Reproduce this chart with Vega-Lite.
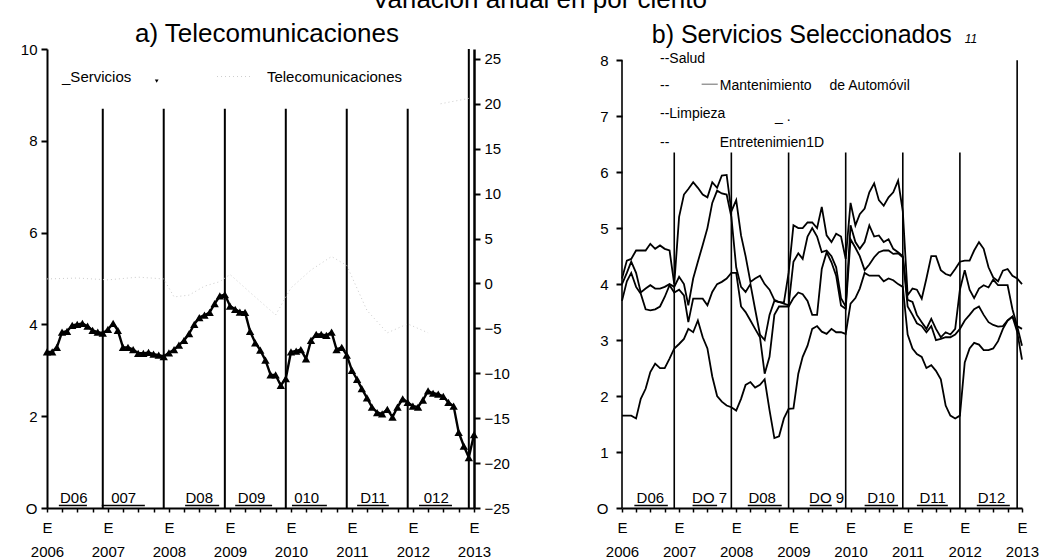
{
  "$schema": "https://vega.github.io/schema/vega-lite/v6.json",
  "padding": {"left": 20, "top": -13, "right": 5, "bottom": 0},
  "config": {
    "view": {"stroke": null},
    "font": "Liberation Sans",
    "axis": {"labelColor": "black", "domainColor": "black", "tickColor": "black", "labelFont": "Liberation Sans", "grid": false, "title": null},
    "title": {"font": "Liberation Sans", "color": "black", "fontWeight": "normal"},
    "text": {"font": "Liberation Sans", "color": "black"}
  },
  "title": {"text": "Variación anual en por ciento", "fontSize": 26, "anchor": "middle", "offset": 8, "dx": 10},
  "datasets": {
    "m": [
      {"d":"2006/01/01","serv":3.4,"Salud":4.1,"Mantenimiento":4.0,"Limpieza":3.7,"Entretenimiento":1.65},
      {"d":"2006/02/01","serv":3.4,"Salud":4.42,"Mantenimiento":4.2,"Limpieza":4.05,"Entretenimiento":1.65},
      {"d":"2006/03/01","serv":3.5,"Salud":4.45,"Mantenimiento":4.4,"Limpieza":4.2,"Entretenimiento":1.65},
      {"d":"2006/04/01","serv":3.83,"Salud":4.6,"Mantenimiento":4.2,"Limpieza":3.95,"Entretenimiento":1.6},
      {"d":"2006/05/01","serv":3.85,"Salud":4.6,"Mantenimiento":3.85,"Limpieza":3.83,"Entretenimiento":1.95},
      {"d":"2006/06/01","serv":3.98,"Salud":4.6,"Mantenimiento":3.92,"Limpieza":3.55,"Entretenimiento":2.13},
      {"d":"2006/07/01","serv":4.0,"Salud":4.72,"Mantenimiento":3.98,"Limpieza":3.53,"Entretenimiento":2.43},
      {"d":"2006/08/01","serv":4.02,"Salud":4.63,"Mantenimiento":3.92,"Limpieza":3.55,"Entretenimiento":2.58},
      {"d":"2006/09/01","serv":3.96,"Salud":4.69,"Mantenimiento":3.92,"Limpieza":3.6,"Entretenimiento":2.5},
      {"d":"2006/10/01","serv":3.87,"Salud":4.63,"Mantenimiento":3.95,"Limpieza":3.77,"Entretenimiento":2.5},
      {"d":"2006/11/01","serv":3.83,"Salud":4.6,"Mantenimiento":4.0,"Limpieza":3.98,"Entretenimiento":2.67},
      {"d":"2006/12/01","serv":3.81,"Salud":4.0,"Mantenimiento":3.95,"Limpieza":3.85,"Entretenimiento":2.85},
      {"d":"2007/01/01","serv":3.89,"Salud":5.2,"Mantenimiento":4.13,"Limpieza":3.9,"Entretenimiento":2.93},
      {"d":"2007/02/01","serv":4.02,"Salud":5.6,"Mantenimiento":4.0,"Limpieza":3.8,"Entretenimiento":3.02},
      {"d":"2007/03/01","serv":3.87,"Salud":5.7,"Mantenimiento":3.62,"Limpieza":3.32,"Entretenimiento":3.2},
      {"d":"2007/04/01","serv":3.5,"Salud":5.82,"Mantenimiento":4.1,"Limpieza":3.74,"Entretenimiento":3.14},
      {"d":"2007/05/01","serv":3.5,"Salud":5.72,"Mantenimiento":4.4,"Limpieza":3.74,"Entretenimiento":3.35},
      {"d":"2007/06/01","serv":3.45,"Salud":5.6,"Mantenimiento":4.7,"Limpieza":3.74,"Entretenimiento":3.05},
      {"d":"2007/07/01","serv":3.37,"Salud":5.55,"Mantenimiento":5.0,"Limpieza":3.62,"Entretenimiento":2.85},
      {"d":"2007/08/01","serv":3.37,"Salud":5.82,"Mantenimiento":5.45,"Limpieza":3.86,"Entretenimiento":2.35},
      {"d":"2007/09/01","serv":3.39,"Salud":5.72,"Mantenimiento":5.67,"Limpieza":4.0,"Entretenimiento":2.0},
      {"d":"2007/10/01","serv":3.35,"Salud":5.94,"Mantenimiento":5.62,"Limpieza":4.04,"Entretenimiento":1.9},
      {"d":"2007/11/01","serv":3.33,"Salud":5.95,"Mantenimiento":5.6,"Limpieza":4.1,"Entretenimiento":1.83},
      {"d":"2007/12/01","serv":3.3,"Salud":5.3,"Mantenimiento":5.2,"Limpieza":4.2,"Entretenimiento":1.8},
      {"d":"2008/01/01","serv":3.38,"Salud":5.5,"Mantenimiento":4.3,"Limpieza":4.2,"Entretenimiento":1.74},
      {"d":"2008/02/01","serv":3.45,"Salud":4.87,"Mantenimiento":3.95,"Limpieza":3.6,"Entretenimiento":1.95},
      {"d":"2008/03/01","serv":3.55,"Salud":4.5,"Mantenimiento":3.86,"Limpieza":3.5,"Entretenimiento":2.2},
      {"d":"2008/04/01","serv":3.65,"Salud":4.04,"Mantenimiento":4.0,"Limpieza":3.35,"Entretenimiento":2.25},
      {"d":"2008/05/01","serv":3.8,"Salud":4.1,"Mantenimiento":3.55,"Limpieza":3.2,"Entretenimiento":2.15},
      {"d":"2008/06/01","serv":4.0,"Salud":4.15,"Mantenimiento":3.1,"Limpieza":3.05,"Entretenimiento":2.2},
      {"d":"2008/07/01","serv":4.15,"Salud":4.0,"Mantenimiento":3.0,"Limpieza":2.4,"Entretenimiento":2.3},
      {"d":"2008/08/01","serv":4.2,"Salud":3.9,"Mantenimiento":3.45,"Limpieza":2.7,"Entretenimiento":1.75},
      {"d":"2008/09/01","serv":4.26,"Salud":3.72,"Mantenimiento":3.7,"Limpieza":3.45,"Entretenimiento":1.25},
      {"d":"2008/10/01","serv":4.45,"Salud":3.68,"Mantenimiento":3.68,"Limpieza":3.6,"Entretenimiento":1.28},
      {"d":"2008/11/01","serv":4.62,"Salud":3.67,"Mantenimiento":3.65,"Limpieza":3.6,"Entretenimiento":1.6},
      {"d":"2008/12/01","serv":4.65,"Salud":4.2,"Mantenimiento":3.62,"Limpieza":3.6,"Entretenimiento":1.77},
      {"d":"2009/01/01","serv":4.4,"Salud":5.05,"Mantenimiento":4.4,"Limpieza":3.75,"Entretenimiento":1.78},
      {"d":"2009/02/01","serv":4.33,"Salud":5.0,"Mantenimiento":4.55,"Limpieza":3.85,"Entretenimiento":2.4},
      {"d":"2009/03/01","serv":4.27,"Salud":5.0,"Mantenimiento":4.45,"Limpieza":3.82,"Entretenimiento":2.7},
      {"d":"2009/04/01","serv":4.26,"Salud":5.1,"Mantenimiento":4.85,"Limpieza":3.7,"Entretenimiento":2.9},
      {"d":"2009/05/01","serv":3.85,"Salud":5.1,"Mantenimiento":5.0,"Limpieza":3.45,"Entretenimiento":3.2},
      {"d":"2009/06/01","serv":3.6,"Salud":5.0,"Mantenimiento":4.85,"Limpieza":3.45,"Entretenimiento":3.25},
      {"d":"2009/07/01","serv":3.44,"Salud":5.38,"Mantenimiento":4.57,"Limpieza":4.27,"Entretenimiento":3.15},
      {"d":"2009/08/01","serv":3.22,"Salud":4.87,"Mantenimiento":4.6,"Limpieza":4.57,"Entretenimiento":3.11},
      {"d":"2009/09/01","serv":2.9,"Salud":4.75,"Mantenimiento":4.5,"Limpieza":4.39,"Entretenimiento":3.2},
      {"d":"2009/10/01","serv":2.9,"Salud":4.9,"Mantenimiento":4.3,"Limpieza":4.15,"Entretenimiento":3.14},
      {"d":"2009/11/01","serv":2.67,"Salud":4.85,"Mantenimiento":3.75,"Limpieza":3.62,"Entretenimiento":3.14},
      {"d":"2009/12/01","serv":2.82,"Salud":4.45,"Mantenimiento":3.6,"Limpieza":3.56,"Entretenimiento":3.11},
      {"d":"2010/01/01","serv":3.4,"Salud":5.45,"Mantenimiento":5.05,"Limpieza":4.8,"Entretenimiento":3.65},
      {"d":"2010/02/01","serv":3.42,"Salud":5.05,"Mantenimiento":4.75,"Limpieza":4.65,"Entretenimiento":3.75},
      {"d":"2010/03/01","serv":3.45,"Salud":5.25,"Mantenimiento":4.63,"Limpieza":4.5,"Entretenimiento":3.92},
      {"d":"2010/04/01","serv":3.25,"Salud":5.35,"Mantenimiento":4.75,"Limpieza":4.25,"Entretenimiento":4.2},
      {"d":"2010/05/01","serv":3.65,"Salud":5.64,"Mantenimiento":5.05,"Limpieza":4.35,"Entretenimiento":4.15},
      {"d":"2010/06/01","serv":3.78,"Salud":5.8,"Mantenimiento":4.85,"Limpieza":4.48,"Entretenimiento":4.15},
      {"d":"2010/07/01","serv":3.78,"Salud":5.5,"Mantenimiento":4.87,"Limpieza":4.57,"Entretenimiento":4.15},
      {"d":"2010/08/01","serv":3.76,"Salud":5.4,"Mantenimiento":4.75,"Limpieza":4.6,"Entretenimiento":4.05},
      {"d":"2010/09/01","serv":3.83,"Salud":5.55,"Mantenimiento":4.8,"Limpieza":4.6,"Entretenimiento":4.1},
      {"d":"2010/10/01","serv":3.45,"Salud":5.64,"Mantenimiento":4.63,"Limpieza":4.54,"Entretenimiento":4.07},
      {"d":"2010/11/01","serv":3.5,"Salud":5.85,"Mantenimiento":4.57,"Limpieza":4.55,"Entretenimiento":4.0},
      {"d":"2010/12/01","serv":3.33,"Salud":5.3,"Mantenimiento":4.5,"Limpieza":4.48,"Entretenimiento":3.95},
      {"d":"2011/01/01","serv":3.0,"Salud":3.8,"Mantenimiento":3.72,"Limpieza":3.6,"Entretenimiento":3.1},
      {"d":"2011/02/01","serv":2.8,"Salud":3.92,"Mantenimiento":3.68,"Limpieza":3.45,"Entretenimiento":2.85},
      {"d":"2011/03/01","serv":2.6,"Salud":3.9,"Mantenimiento":3.45,"Limpieza":3.3,"Entretenimiento":2.75},
      {"d":"2011/04/01","serv":2.4,"Salud":3.74,"Mantenimiento":3.32,"Limpieza":3.25,"Entretenimiento":2.7},
      {"d":"2011/05/01","serv":2.2,"Salud":4.1,"Mantenimiento":3.2,"Limpieza":3.14,"Entretenimiento":2.5},
      {"d":"2011/06/01","serv":2.08,"Salud":4.5,"Mantenimiento":3.38,"Limpieza":3.25,"Entretenimiento":2.55},
      {"d":"2011/07/01","serv":2.05,"Salud":4.5,"Mantenimiento":3.2,"Limpieza":3.0,"Entretenimiento":2.45},
      {"d":"2011/08/01","serv":2.15,"Salud":4.25,"Mantenimiento":3.05,"Limpieza":3.02,"Entretenimiento":2.3},
      {"d":"2011/09/01","serv":1.98,"Salud":4.18,"Mantenimiento":3.14,"Limpieza":3.05,"Entretenimiento":1.83},
      {"d":"2011/10/01","serv":2.2,"Salud":4.15,"Mantenimiento":3.1,"Limpieza":3.05,"Entretenimiento":1.65},
      {"d":"2011/11/01","serv":2.38,"Salud":4.27,"Mantenimiento":3.2,"Limpieza":3.1,"Entretenimiento":1.6},
      {"d":"2011/12/01","serv":2.3,"Salud":4.4,"Mantenimiento":3.9,"Limpieza":3.2,"Entretenimiento":1.65},
      {"d":"2012/01/01","serv":2.22,"Salud":4.42,"Mantenimiento":4.25,"Limpieza":3.35,"Entretenimiento":2.6},
      {"d":"2012/02/01","serv":2.2,"Salud":4.42,"Mantenimiento":3.9,"Limpieza":3.45,"Entretenimiento":2.85},
      {"d":"2012/03/01","serv":2.35,"Salud":4.6,"Mantenimiento":3.75,"Limpieza":3.55,"Entretenimiento":2.95},
      {"d":"2012/04/01","serv":2.55,"Salud":4.75,"Mantenimiento":3.92,"Limpieza":3.6,"Entretenimiento":2.92},
      {"d":"2012/05/01","serv":2.5,"Salud":4.63,"Mantenimiento":3.98,"Limpieza":3.45,"Entretenimiento":2.82},
      {"d":"2012/06/01","serv":2.48,"Salud":4.3,"Mantenimiento":3.94,"Limpieza":3.32,"Entretenimiento":2.82},
      {"d":"2012/07/01","serv":2.43,"Salud":4.12,"Mantenimiento":4.08,"Limpieza":3.27,"Entretenimiento":2.85},
      {"d":"2012/08/01","serv":2.3,"Salud":4.05,"Mantenimiento":3.98,"Limpieza":3.24,"Entretenimiento":2.98},
      {"d":"2012/09/01","serv":2.22,"Salud":4.24,"Mantenimiento":3.98,"Limpieza":3.25,"Entretenimiento":3.2},
      {"d":"2012/10/01","serv":1.65,"Salud":4.27,"Mantenimiento":3.98,"Limpieza":3.35,"Entretenimiento":3.35},
      {"d":"2012/11/01","serv":1.35,"Salud":4.15,"Mantenimiento":3.55,"Limpieza":3.42,"Entretenimiento":3.42},
      {"d":"2012/12/01","serv":1.1,"Salud":4.1,"Mantenimiento":3.25,"Limpieza":3.25,"Entretenimiento":3.15},
      {"d":"2013/01/01","serv":1.6,"Salud":4.0,"Mantenimiento":3.2,"Limpieza":2.9,"Entretenimiento":2.65}
    ],
    "t": [
      {"d":"2006/01/01","v":0.5,"seg":"a"},{"d":"2006/07/01","v":0.6,"seg":"a"},{"d":"2007/01/01","v":0.4,"seg":"a"},
      {"d":"2007/07/01","v":0.7,"seg":"a"},{"d":"2007/12/01","v":0.5,"seg":"a"},{"d":"2008/02/01","v":-1.5,"seg":"a"},
      {"d":"2008/05/01","v":-1.3,"seg":"a"},{"d":"2008/08/01","v":-0.3,"seg":"a"},{"d":"2008/11/01","v":0.2,"seg":"a"},
      {"d":"2009/01/01","v":1.0,"seg":"a"},{"d":"2009/05/01","v":-1.0,"seg":"a"},{"d":"2009/10/01","v":-3.5,"seg":"a"},
      {"d":"2010/01/01","v":-0.5,"seg":"a"},{"d":"2010/05/01","v":1.5,"seg":"a"},{"d":"2010/09/01","v":3.0,"seg":"a"},
      {"d":"2010/12/01","v":2.0,"seg":"a"},{"d":"2011/04/01","v":-3.0,"seg":"a"},{"d":"2011/08/01","v":-5.5,"seg":"a"},
      {"d":"2011/12/01","v":-4.5,"seg":"a"},{"d":"2012/04/01","v":-5.5,"seg":"a"},
      {"d":"2012/06/15","v":20.0,"seg":"b"},{"d":"2012/12/01","v":20.6,"seg":"b"}
    ],
    "dl": [
      {"d":"2006/12/01","bot":0,"top":8.7},{"d":"2007/12/01","bot":0,"top":8.7},{"d":"2008/12/01","bot":0,"top":8.7},
      {"d":"2009/12/01","bot":0,"top":8.7},{"d":"2010/12/01","bot":0,"top":8.7},{"d":"2011/12/01","bot":0,"top":8.7},
      {"d":"2012/12/01","bot":0,"top":10}
    ],
    "dr": [
      {"d":"2006/01/01","bot":0,"top":8},
      {"d":"2006/12/01","bot":0,"top":6.35},{"d":"2007/12/01","bot":0,"top":6.35},{"d":"2008/12/01","bot":0,"top":6.35},
      {"d":"2009/12/01","bot":0,"top":6.35},{"d":"2010/12/01","bot":0,"top":6.35},{"d":"2011/12/01","bot":0,"top":6.35},
      {"d":"2012/12/01","bot":0,"top":8}
    ],
    "labL": [
      {"d":"2006/06/10","y":0.11,"t":"D06"},{"d":"2007/04/05","y":0.11,"t":"007"},{"d":"2008/07/01","y":0.11,"t":"D08"},
      {"d":"2009/05/10","y":0.11,"t":"D09"},{"d":"2010/04/05","y":0.11,"t":"010"},{"d":"2011/05/10","y":0.11,"t":"D11"},
      {"d":"2012/05/20","y":0.11,"t":"012"}
    ],
    "ulL": [
      {"d":"2006/03/13","d2":"2006/08/28","y":0.055},{"d":"2006/11/25","d2":"2007/08/10","y":0.055},
      {"d":"2008/04/07","d2":"2008/10/28","y":0.055},{"d":"2009/02/01","d2":"2009/09/10","y":0.055},
      {"d":"2010/01/07","d2":"2010/08/04","y":0.055},{"d":"2011/02/01","d2":"2011/08/10","y":0.055},
      {"d":"2012/02/07","d2":"2012/08/22","y":0.055}
    ],
    "labR": [
      {"d":"2006/07/01","y":0.09,"t":"D06"},{"d":"2007/07/15","y":0.09,"t":"DO 7"},{"d":"2008/06/15","y":0.09,"t":"D08"},
      {"d":"2009/08/01","y":0.09,"t":"DO 9"},{"d":"2010/07/15","y":0.09,"t":"D10"},{"d":"2011/06/10","y":0.09,"t":"D11"},
      {"d":"2012/06/20","y":0.09,"t":"D12"}
    ],
    "ulR": [
      {"d":"2006/03/21","d2":"2006/10/21","y":0.045},{"d":"2007/03/28","d2":"2007/09/01","y":0.045},
      {"d":"2008/03/15","d2":"2008/10/18","y":0.045},{"d":"2009/04/15","d2":"2009/09/03","y":0.045},
      {"d":"2010/04/01","d2":"2010/11/01","y":0.045},{"d":"2011/03/01","d2":"2011/09/15","y":0.045},
      {"d":"2012/03/18","d2":"2012/10/15","y":0.045}
    ],
    "legL": [
      {"d":"2006/04/01","y":9.39,"t":"_Servicios"},
      {"d":"2009/08/10","y":9.39,"t":"Telecomunicaciones"}
    ],
    "legR": [
      {"d":"2006/09/01","y":8.02,"t":"--Salud"},
      {"d":"2006/09/01","y":7.54,"t":"--"},
      {"d":"2007/09/18","y":7.54,"t":"Mantenimiento"},
      {"d":"2009/08/20","y":7.54,"t":"de Automóvil"},
      {"d":"2006/09/01","y":7.04,"t":"--Limpieza"},
      {"d":"2008/09/05","y":6.98,"t":"_ ."},
      {"d":"2006/09/01","y":6.52,"t":"--"},
      {"d":"2007/09/18","y":6.52,"t":"Entretenimien1D"}
    ]
  },
  "hconcat": [
    {
      "width": 427,
      "height": 459,
      "encoding": {
        "x": {
          "field": "d", "type": "temporal",
          "scale": {"domain": [{"year": 2006, "month": 1, "date": 1}, {"year": 2013, "month": 1, "date": 1}], "nice": false},
          "axis": {
            "values": [
              {"year":2006,"month":1,"date":1},{"year":2006,"month":4,"date":1},{"year":2006,"month":7,"date":1},{"year":2006,"month":10,"date":1},
              {"year":2007,"month":1,"date":1},{"year":2007,"month":4,"date":1},{"year":2007,"month":7,"date":1},{"year":2007,"month":10,"date":1},
              {"year":2008,"month":1,"date":1},{"year":2008,"month":4,"date":1},{"year":2008,"month":7,"date":1},{"year":2008,"month":10,"date":1},
              {"year":2009,"month":1,"date":1},{"year":2009,"month":4,"date":1},{"year":2009,"month":7,"date":1},{"year":2009,"month":10,"date":1},
              {"year":2010,"month":1,"date":1},{"year":2010,"month":4,"date":1},{"year":2010,"month":7,"date":1},{"year":2010,"month":10,"date":1},
              {"year":2011,"month":1,"date":1},{"year":2011,"month":4,"date":1},{"year":2011,"month":7,"date":1},{"year":2011,"month":10,"date":1},
              {"year":2012,"month":1,"date":1},{"year":2012,"month":4,"date":1},{"year":2012,"month":7,"date":1},{"year":2012,"month":10,"date":1},
              {"year":2013,"month":1,"date":1}
            ],
            "labelExpr": "month(datum.value) == 0 ? ['E', timeFormat(datum.value, '%Y')] : ''",
            "labelFlush": false, "labelOverlap": false, "labelLineHeight": 24,
            "labelPadding": 8, "tickSize": 4, "tickWidth": 1.5, "domainWidth": 2, "labelFontSize": 15, "title": null
          }
        }
      },
      "layer": [
        {
          "layer": [
            {
              "data": {"name": "dl"},
              "mark": {"type": "rule", "color": "black", "strokeWidth": 2},
              "encoding": {
                "y": {"field": "top", "type": "quantitative", "scale": {"domain": [0, 10], "nice": false},
                      "axis": {"values": [0, 2, 4, 6, 8, 10], "labelExpr": "datum.value == 0 ? 'O' : datum.label", "tickSize": 6, "tickWidth": 2, "domainWidth": 2, "labelPadding": 4, "labelFontSize": 15, "title": null}},
                "y2": {"field": "bot"}
              }
            },
            {
              "data": {"name": "m"},
              "mark": {"type": "line", "color": "black", "strokeWidth": 2.4,
                       "point": {"shape": "triangle-up", "filled": true, "size": 70, "color": "black"}},
              "encoding": {
                "y": {"field": "serv", "type": "quantitative", "scale": {"domain": [0, 10], "nice": false},
                      "axis": {"values": [0, 2, 4, 6, 8, 10], "labelExpr": "datum.value == 0 ? 'O' : datum.label", "tickSize": 6, "tickWidth": 2, "domainWidth": 2, "labelPadding": 4, "labelFontSize": 15, "title": null}}
              }
            },
            {
              "data": {"name": "labL"},
              "mark": {"type": "text", "fontSize": 15, "baseline": "alphabetic", "align": "center"},
              "encoding": {
                "y": {"field": "y", "type": "quantitative", "scale": {"domain": [0, 10], "nice": false},
                      "axis": {"values": [0, 2, 4, 6, 8, 10], "labelExpr": "datum.value == 0 ? 'O' : datum.label", "tickSize": 6, "tickWidth": 2, "domainWidth": 2, "labelPadding": 4, "labelFontSize": 15, "title": null}},
                "text": {"field": "t", "type": "nominal"}
              }
            },
            {
              "data": {"name": "ulL"},
              "mark": {"type": "rule", "color": "black", "strokeWidth": 1.5},
              "encoding": {
                "x2": {"field": "d2"},
                "y": {"field": "y", "type": "quantitative", "scale": {"domain": [0, 10], "nice": false},
                      "axis": {"values": [0, 2, 4, 6, 8, 10], "labelExpr": "datum.value == 0 ? 'O' : datum.label", "tickSize": 6, "tickWidth": 2, "domainWidth": 2, "labelPadding": 4, "labelFontSize": 15, "title": null}}
              }
            },
            {
              "data": {"name": "legL"},
              "mark": {"type": "text", "fontSize": 15, "baseline": "middle", "align": "left"},
              "encoding": {
                "y": {"field": "y", "type": "quantitative", "scale": {"domain": [0, 10], "nice": false},
                      "axis": {"values": [0, 2, 4, 6, 8, 10], "labelExpr": "datum.value == 0 ? 'O' : datum.label", "tickSize": 6, "tickWidth": 2, "domainWidth": 2, "labelPadding": 4, "labelFontSize": 15, "title": null}},
                "text": {"field": "t", "type": "nominal"}
              }
            },
            {
              "data": {"values": [{"d": "2009/08/10", "y": 10.15, "t": "a) Telecomunicaciones"}]},
              "mark": {"type": "text", "fontSize": 26, "baseline": "alphabetic", "align": "center"},
              "encoding": {
                "y": {"field": "y", "type": "quantitative", "scale": {"domain": [0, 10], "nice": false},
                      "axis": {"values": [0, 2, 4, 6, 8, 10], "labelExpr": "datum.value == 0 ? 'O' : datum.label", "tickSize": 6, "tickWidth": 2, "domainWidth": 2, "labelPadding": 4, "labelFontSize": 15, "title": null}},
                "text": {"field": "t", "type": "nominal"}
              }
            },
            {
              "data": {"values": [{"d": "2007/10/20", "y": 9.3}]},
              "mark": {"type": "point", "shape": "triangle-down", "filled": true, "size": 14, "color": "black", "opacity": 1},
              "encoding": {
                "y": {"field": "y", "type": "quantitative", "scale": {"domain": [0, 10], "nice": false},
                      "axis": {"values": [0, 2, 4, 6, 8, 10], "labelExpr": "datum.value == 0 ? 'O' : datum.label", "tickSize": 6, "tickWidth": 2, "domainWidth": 2, "labelPadding": 4, "labelFontSize": 15, "title": null}}
              }
            },
            {
              "data": {"values": [{"d": "2008/10/15", "d2": "2009/05/12", "y": 9.4}]},
              "mark": {"type": "rule", "color": "#cccccc", "strokeWidth": 1, "strokeDash": [1, 3]},
              "encoding": {
                "x2": {"field": "d2"},
                "y": {"field": "y", "type": "quantitative", "scale": {"domain": [0, 10], "nice": false},
                      "axis": {"values": [0, 2, 4, 6, 8, 10], "labelExpr": "datum.value == 0 ? 'O' : datum.label", "tickSize": 6, "tickWidth": 2, "domainWidth": 2, "labelPadding": 4, "labelFontSize": 15, "title": null}}
              }
            }
          ]
        },
        {
          "data": {"name": "t"},
          "mark": {"type": "line", "color": "#cccccc", "strokeWidth": 1, "strokeDash": [1, 3]},
          "encoding": {
            "y": {"field": "v", "type": "quantitative", "scale": {"domain": [-25, 26.1], "nice": false, "zero": false},
                  "axis": {"orient": "right", "values": [-25, -20, -15, -10, -5, 0, 5, 10, 15, 20, 25],
                           "tickSize": 6, "tickWidth": 2, "domainWidth": 2.5, "labelPadding": 4, "labelFontSize": 15, "title": null}},
            "detail": {"field": "seg", "type": "nominal"}
          }
        }
      ],
      "resolve": {"scale": {"y": "independent"}}
    },
    {
      "width": 400,
      "height": 459,
      "encoding": {
        "x": {
          "field": "d", "type": "temporal",
          "scale": {"domain": [{"year": 2006, "month": 1, "date": 1}, {"year": 2013, "month": 1, "date": 1}], "nice": false},
          "axis": {
            "values": [
              {"year":2006,"month":1,"date":1},{"year":2006,"month":4,"date":1},{"year":2006,"month":7,"date":1},{"year":2006,"month":10,"date":1},
              {"year":2007,"month":1,"date":1},{"year":2007,"month":4,"date":1},{"year":2007,"month":7,"date":1},{"year":2007,"month":10,"date":1},
              {"year":2008,"month":1,"date":1},{"year":2008,"month":4,"date":1},{"year":2008,"month":7,"date":1},{"year":2008,"month":10,"date":1},
              {"year":2009,"month":1,"date":1},{"year":2009,"month":4,"date":1},{"year":2009,"month":7,"date":1},{"year":2009,"month":10,"date":1},
              {"year":2010,"month":1,"date":1},{"year":2010,"month":4,"date":1},{"year":2010,"month":7,"date":1},{"year":2010,"month":10,"date":1},
              {"year":2011,"month":1,"date":1},{"year":2011,"month":4,"date":1},{"year":2011,"month":7,"date":1},{"year":2011,"month":10,"date":1},
              {"year":2012,"month":1,"date":1},{"year":2012,"month":4,"date":1},{"year":2012,"month":7,"date":1},{"year":2012,"month":10,"date":1},
              {"year":2013,"month":1,"date":1}
            ],
            "labelExpr": "month(datum.value) == 0 ? ['E', timeFormat(datum.value, '%Y')] : ''",
            "labelFlush": false, "labelOverlap": false, "labelLineHeight": 24,
            "labelPadding": 8, "tickSize": 4, "tickWidth": 1.5, "domainWidth": 2, "labelFontSize": 15, "title": null
          }
        }
      },
      "layer": [
        {
          "data": {"name": "dr"},
          "mark": {"type": "rule", "color": "black", "strokeWidth": 1.6},
          "encoding": {
            "y": {"field": "top", "type": "quantitative", "scale": {"domain": [0, 8.2], "nice": false},
                  "axis": {"values": [0, 1, 2, 3, 4, 5, 6, 7, 8], "labelExpr": "datum.value == 0 ? 'O' : datum.label", "domain": false, "tickSize": 6, "tickWidth": 2, "labelPadding": 8, "labelFontSize": 15, "title": null}},
            "y2": {"field": "bot"}
          }
        },
        {
          "data": {"name": "m"},
          "transform": [{"fold": ["Salud", "Mantenimiento", "Limpieza", "Entretenimiento"], "as": ["serie", "valor"]}],
          "mark": {"type": "line", "color": "black", "strokeWidth": 1.8},
          "encoding": {
            "y": {"field": "valor", "type": "quantitative", "scale": {"domain": [0, 8.2], "nice": false},
                  "axis": {"values": [0, 1, 2, 3, 4, 5, 6, 7, 8], "labelExpr": "datum.value == 0 ? 'O' : datum.label", "domain": false, "tickSize": 6, "tickWidth": 2, "labelPadding": 8, "labelFontSize": 15, "title": null}},
            "detail": {"field": "serie", "type": "nominal"}
          }
        },
        {
          "data": {"name": "labR"},
          "mark": {"type": "text", "fontSize": 15, "baseline": "alphabetic", "align": "center"},
          "encoding": {
            "y": {"field": "y", "type": "quantitative", "scale": {"domain": [0, 8.2], "nice": false},
                  "axis": {"values": [0, 1, 2, 3, 4, 5, 6, 7, 8], "labelExpr": "datum.value == 0 ? 'O' : datum.label", "domain": false, "tickSize": 6, "tickWidth": 2, "labelPadding": 8, "labelFontSize": 15, "title": null}},
            "text": {"field": "t", "type": "nominal"}
          }
        },
        {
          "data": {"name": "ulR"},
          "mark": {"type": "rule", "color": "black", "strokeWidth": 1.5},
          "encoding": {
            "x2": {"field": "d2"},
            "y": {"field": "y", "type": "quantitative", "scale": {"domain": [0, 8.2], "nice": false},
                  "axis": {"values": [0, 1, 2, 3, 4, 5, 6, 7, 8], "labelExpr": "datum.value == 0 ? 'O' : datum.label", "domain": false, "tickSize": 6, "tickWidth": 2, "labelPadding": 8, "labelFontSize": 15, "title": null}}
          }
        },
        {
          "data": {"name": "legR"},
          "mark": {"type": "text", "fontSize": 14, "baseline": "middle", "align": "left"},
          "encoding": {
            "y": {"field": "y", "type": "quantitative", "scale": {"domain": [0, 8.2], "nice": false},
                  "axis": {"values": [0, 1, 2, 3, 4, 5, 6, 7, 8], "labelExpr": "datum.value == 0 ? 'O' : datum.label", "domain": false, "tickSize": 6, "tickWidth": 2, "labelPadding": 8, "labelFontSize": 15, "title": null}},
            "text": {"field": "t", "type": "nominal"}
          }
        },
        {
          "data": {"values": [{"d": "2006/07/10", "y": 8.3, "t": "b) Servicios Seleccionados"}]},
          "mark": {"type": "text", "fontSize": 25, "baseline": "alphabetic", "align": "left"},
          "encoding": {
            "y": {"field": "y", "type": "quantitative", "scale": {"domain": [0, 8.2], "nice": false},
                  "axis": {"values": [0, 1, 2, 3, 4, 5, 6, 7, 8], "labelExpr": "datum.value == 0 ? 'O' : datum.label", "domain": false, "tickSize": 6, "tickWidth": 2, "labelPadding": 8, "labelFontSize": 15, "title": null}},
            "text": {"field": "t", "type": "nominal"}
          }
        },
        {
          "data": {"values": [{"d": "2012/01/01", "y": 8.3, "t": "11"}]},
          "mark": {"type": "text", "fontSize": 12, "fontStyle": "italic", "baseline": "alphabetic", "align": "left"},
          "encoding": {
            "y": {"field": "y", "type": "quantitative", "scale": {"domain": [0, 8.2], "nice": false},
                  "axis": {"values": [0, 1, 2, 3, 4, 5, 6, 7, 8], "labelExpr": "datum.value == 0 ? 'O' : datum.label", "domain": false, "tickSize": 6, "tickWidth": 2, "labelPadding": 8, "labelFontSize": 15, "title": null}},
            "text": {"field": "t", "type": "nominal"}
          }
        },
        {
          "data": {"values": [{"d": "2007/05/25", "d2": "2007/09/05", "y": 7.57}]},
          "mark": {"type": "rule", "color": "#999999", "strokeWidth": 1.5},
          "encoding": {
            "x2": {"field": "d2"},
            "y": {"field": "y", "type": "quantitative", "scale": {"domain": [0, 8.2], "nice": false},
                  "axis": {"values": [0, 1, 2, 3, 4, 5, 6, 7, 8], "labelExpr": "datum.value == 0 ? 'O' : datum.label", "domain": false, "tickSize": 6, "tickWidth": 2, "labelPadding": 8, "labelFontSize": 15, "title": null}}
          }
        }
      ]
    }
  ],
  "spacing": 86
}
